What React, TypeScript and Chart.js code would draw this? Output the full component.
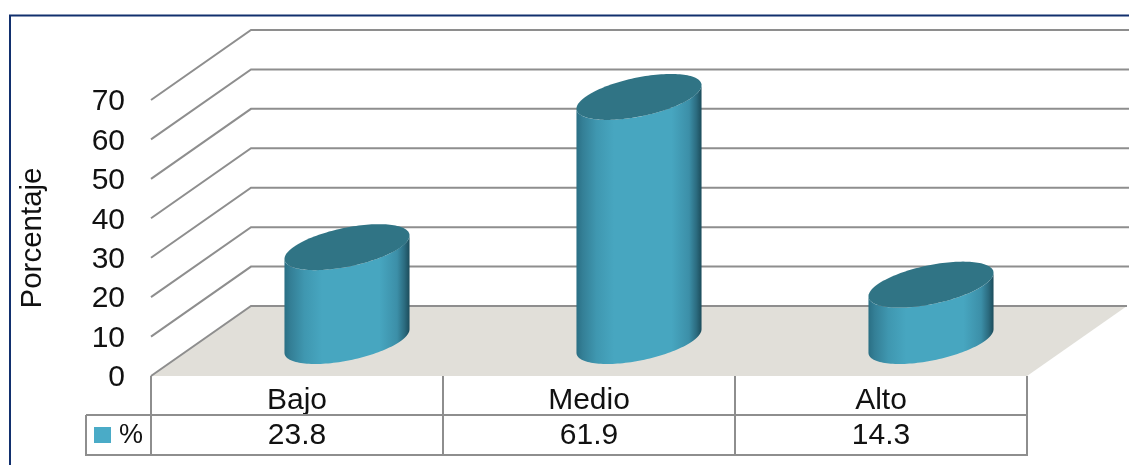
import React, { useEffect, useRef } from "react";
import { Chart, registerables } from "chart.js";

Chart.register(...registerables);

const categories = ["Bajo", "Medio", "Alto"];
const seriesName = "%";
const seriesValues = [23.8, 61.9, 14.3];
const axisTitle = "Porcentaje";

const FONT = '"Liberation Sans", Arial, sans-serif';
const FONT_SIZE = 30;
const GRID = "#8e8e8e";
const FLOOR = "#e1dfd9";
const TOP_FILL = "#307485";
const SWATCH = "#4aabc7";
const TEXT = "#111111";
const DEPTH_X = 100;
const DEPTH_Y = 70;
const DISC_SKEW_X = 32;
const DISC_DEPTH = 23;
const TABLE_ROW = 415;
const TABLE_BOTTOM = 455;
const TABLE_LEFT = 86;

const line = (ctx: CanvasRenderingContext2D, x1: number, y1: number, x2: number, y2: number) => {
  ctx.beginPath();
  ctx.moveTo(x1, y1);
  ctx.lineTo(x2, y2);
  ctx.stroke();
};

const scenePlugin = {
  id: "scene",
  beforeDraw(chart: any) {
    const { ctx, width, height } = chart;
    ctx.save();
    ctx.fillStyle = "#ffffff";
    ctx.fillRect(0, 0, width, height);
    ctx.strokeStyle = "#12306e";
    ctx.lineWidth = 2;
    ctx.beginPath();
    ctx.moveTo(10, height);
    ctx.lineTo(10, 15.5);
    ctx.lineTo(width, 15.5);
    ctx.stroke();
    ctx.restore();
  },
  beforeDatasetsDraw(chart: any) {
    const { ctx, scales } = chart;
    const y = scales.y;
    const { left, right, bottom } = chart.chartArea;
    ctx.save();
    ctx.fillStyle = FLOOR;
    ctx.beginPath();
    ctx.moveTo(left, bottom);
    ctx.lineTo(right, bottom);
    ctx.lineTo(right + DEPTH_X, bottom - DEPTH_Y);
    ctx.lineTo(left + DEPTH_X, bottom - DEPTH_Y);
    ctx.closePath();
    ctx.fill();
    ctx.strokeStyle = GRID;
    ctx.lineWidth = 2;
    y.ticks.forEach((t: any) => {
      const py = y.getPixelForValue(t.value);
      ctx.beginPath();
      ctx.moveTo(left, py);
      ctx.lineTo(left + DEPTH_X, py - DEPTH_Y);
      ctx.lineTo(t.value === 0 ? right + DEPTH_X : chart.width, py - DEPTH_Y);
      ctx.stroke();
    });
    ctx.restore();
  },
  beforeDatasetDraw(chart: any, args: any) {
    const { ctx } = chart;
    const meta = chart.getDatasetMeta(args.index);
    meta.data.forEach((bar: any) => {
      const a = bar.width / 2;
      const b = DISC_SKEW_X;
      const c = DISC_DEPTH;
      const R = Math.sqrt(a * a + b * b);
      const t0 = Math.atan2(b, a);
      const cx = bar.x + DEPTH_X / 2;
      const baseY = bar.base - DEPTH_Y / 2;
      const topY = bar.y - DEPTH_Y / 2;
      const pt = (cy: number, t: number): [number, number] => [
        cx + a * Math.cos(t) + b * Math.sin(t),
        cy - c * Math.sin(t),
      ];
      const grad = ctx.createLinearGradient(cx - R, 0, cx + R, 0);
      grad.addColorStop(0, "#2a6f84");
      grad.addColorStop(0.05, "#347f96");
      grad.addColorStop(0.16, "#3f97b0");
      grad.addColorStop(0.3, "#47a6c0");
      grad.addColorStop(0.76, "#47a6c0");
      grad.addColorStop(0.9, "#3c8fa8");
      grad.addColorStop(0.96, "#2b6b7f");
      grad.addColorStop(1, "#1c4c5b");
      ctx.save();
      ctx.fillStyle = grad;
      ctx.beginPath();
      const N = 72;
      for (let i = 0; i <= N; i++) {
        const [x, y] = pt(baseY, t0 + Math.PI + (Math.PI * i) / N);
        if (i === 0) ctx.moveTo(x, y);
        else ctx.lineTo(x, y);
      }
      for (let i = N; i >= 0; i--) {
        const [x, y] = pt(topY, t0 + Math.PI + (Math.PI * i) / N);
        ctx.lineTo(x, y);
      }
      ctx.closePath();
      ctx.fill();
      ctx.fillStyle = TOP_FILL;
      ctx.beginPath();
      for (let i = 0; i <= 2 * N; i++) {
        const [x, y] = pt(topY, (Math.PI * i) / N);
        if (i === 0) ctx.moveTo(x, y);
        else ctx.lineTo(x, y);
      }
      ctx.closePath();
      ctx.fill();
      ctx.restore();
    });
    return false;
  },
  afterDraw(chart: any) {
    const { ctx, scales } = chart;
    const xs = scales.x;
    const { left, right, bottom } = chart.chartArea;
    const step = (right - left) / categories.length;
    ctx.save();
    ctx.strokeStyle = GRID;
    ctx.lineWidth = 2;
    for (let i = 0; i <= categories.length; i++) {
      const px = left + step * i;
      line(ctx, px, bottom, px, TABLE_BOTTOM);
    }
    line(ctx, TABLE_LEFT, TABLE_ROW, right, TABLE_ROW);
    line(ctx, TABLE_LEFT, TABLE_BOTTOM, right + 1, TABLE_BOTTOM);
    line(ctx, TABLE_LEFT, TABLE_ROW, TABLE_LEFT, TABLE_BOTTOM + 1);
    ctx.fillStyle = SWATCH;
    ctx.fillRect(TABLE_LEFT + 8, 427, 17, 16);
    ctx.fillStyle = TEXT;
    ctx.font = `${FONT_SIZE}px ${FONT}`;
    ctx.textBaseline = "middle";
    ctx.textAlign = "center";
    const rowY = (TABLE_ROW + TABLE_BOTTOM) / 2 + 1;
    seriesValues.forEach((v, i) => {
      ctx.fillText(v.toFixed(1), xs.getPixelForValue(i), rowY);
    });
    ctx.font = `27px ${FONT}`;
    ctx.fillText(seriesName, 131, rowY);
    ctx.restore();
  },
};

export default function App() {
  const ref = useRef<HTMLCanvasElement>(null);
  useEffect(() => {
    const chart = new Chart(ref.current!, {
      type: "bar",
      data: {
        labels: categories,
        datasets: [
          {
            label: seriesName,
            data: seriesValues,
            backgroundColor: SWATCH,
            categoryPercentage: 1,
            barPercentage: 0.368,
          },
        ],
      },
      plugins: [scenePlugin],
      options: {
        responsive: false,
        animation: false,
        layout: { padding: { left: 0, right: 102, top: 100, bottom: 0 } },
        plugins: { legend: { display: false }, tooltip: { enabled: false } },
        scales: {
          x: {
            grid: { display: false },
            border: { display: false },
            ticks: { color: TEXT, padding: -1, font: { family: FONT, size: FONT_SIZE } },
            afterFit: (s: any) => {
              s.height = 89;
            },
          },
          y: {
            min: 0,
            max: 70,
            grid: { display: false },
            border: { display: false },
            ticks: {
              stepSize: 10,
              color: TEXT,
              padding: 18,
              labelOffset: 2,
              font: { family: FONT, size: FONT_SIZE },
            },
            title: {
              display: true,
              text: axisTitle,
              color: TEXT,
              padding: { top: 15, bottom: 0 },
              font: { family: FONT, size: 29.5, weight: "normal" },
            },
            afterFit: (s: any) => {
              s.width = 151;
            },
          },
        },
      },
    } as any);
    return () => chart.destroy();
  }, []);
  return (
    <div style={{ position: "absolute", left: 0, top: 0, width: 1129, height: 465, overflow: "hidden" }}>
      <canvas ref={ref} width={1129} height={465} style={{ display: "block", filter: "blur(0.5px)" }} />
    </div>
  );
}
